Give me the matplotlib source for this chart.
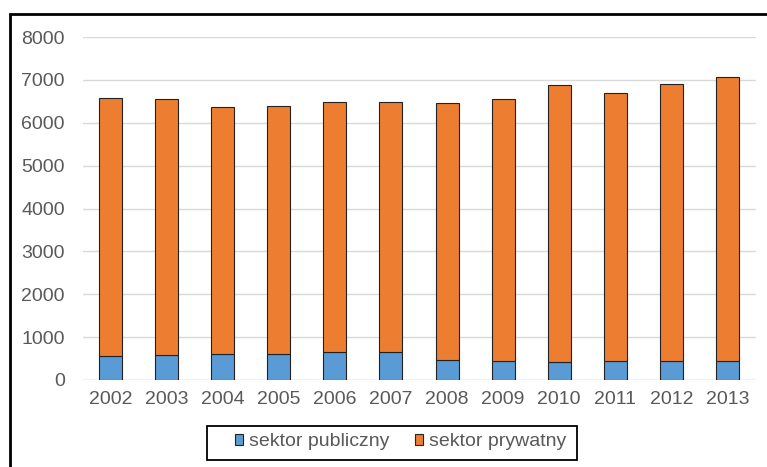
import matplotlib
matplotlib.use("Agg")
import matplotlib.pyplot as plt
from matplotlib.patches import Rectangle, Patch
import numpy as np

plt.rcParams['font.family'] = ['Liberation Sans', 'DejaVu Sans']

years = ['2002', '2003', '2004', '2005', '2006', '2007',
         '2008', '2009', '2010', '2011', '2012', '2013']
publiczny = [558, 581, 605, 605, 644, 644, 465, 442, 419, 442, 442, 442]
razem = [6575, 6550, 6365, 6390, 6480, 6480, 6455, 6550, 6885, 6690, 6900, 7070]
prywatny = [r - p for r, p in zip(razem, publiczny)]

blue = '#5B9BD5'
orange = '#ED7D31'
txt = '#595959'
fs = 14

fig = plt.figure(figsize=(7.67, 4.67), dpi=100)
ax = fig.add_axes([82.5/767, 1-380/467, 673/767, 343/467])

x = np.arange(len(years))
ax.bar(x, publiczny, width=0.41, color=blue, edgecolor='#222222', linewidth=0.8, zorder=3)
ax.bar(x, prywatny, width=0.41, bottom=publiczny, color=orange, edgecolor='#222222',
       linewidth=0.8, zorder=3)

ax.set_xlim(-0.5, len(years)-0.5)
ax.set_ylim(0, 8000)
ax.set_yticks(range(0, 8001, 1000))
ax.set_xticks(x)
ax.set_xticklabels(years)
ax.tick_params(axis='both', length=0, labelsize=fs, labelcolor=txt)
ax.tick_params(axis='y', pad=12.6)
ax.tick_params(axis='x', pad=8)
ax.yaxis.grid(True, color='#D9D9D9', linewidth=1, zorder=0)
for s in ax.spines.values():
    s.set_visible(False)
ax.axhline(0, color='#D9D9D9', linewidth=1, zorder=2)

# ramka wykresu
fig.patches.append(Rectangle((10/767, -0.1), 1.0, 1.1 - 13.5/467, transform=fig.transFigure,
                             fill=False, edgecolor='black', linewidth=2, clip_on=False))

# legenda + jej ramka
handles = [Patch(facecolor=blue, edgecolor='#222222', linewidth=0.8),
           Patch(facecolor=orange, edgecolor='#222222', linewidth=0.8)]
leg = fig.legend(handles, ['sektor publiczny', 'sektor prywatny'], loc='center left',
                 bbox_to_anchor=(235/767, 1-442/467), ncol=2, frameon=False,
                 fontsize=fs, handlelength=0.42, handleheight=0.5, handletextpad=0.3,
                 columnspacing=1.3, borderpad=0, borderaxespad=0, labelcolor=txt)
fig.patches.append(Rectangle((207/767, 1-460/467), 370/767, 34/467, transform=fig.transFigure,
                             fill=False, edgecolor='black', linewidth=1.3))

fig.savefig('out.png', dpi=100)
